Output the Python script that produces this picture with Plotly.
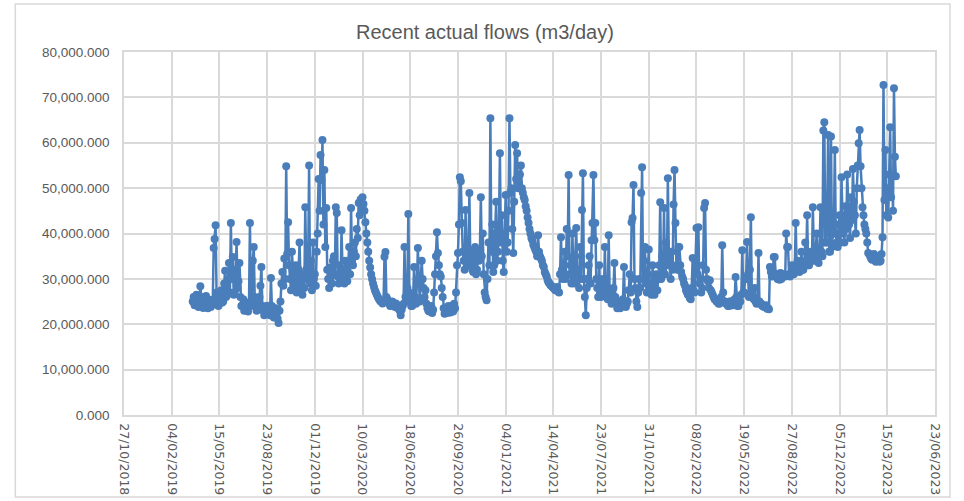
import pandas as pd
import plotly.graph_objects as go

# ---- data ----
title_text = "Recent actual flows (m3/day)"
start_date = "2019-03-20"      # first sample
step = "2D"                    # sampling step of the series below
axis_start = "2018-10-27"
axis_end = "2023-06-23"

# flow, thousands of m3/day, one value every 2 days (20 values = 40 days per row)
flows_k = [
    25.0, 26.0, 24.2, 25.5, 26.5, 24.5, 23.8, 25.0, 28.4, 26.0, 25.1, 23.6, 24.0, 25.2, 26.2, 24.4, 23.5, 24.8, 25.4, 23.8,
    24.3, 25.0, 36.8, 38.8, 41.8, 27.0, 26.0, 24.0, 24.5, 25.5, 27.5, 24.8, 25.0, 29.0, 31.8, 26.0, 26.4, 30.0, 33.5, 27.0,
    42.3, 30.0, 34.8, 26.5, 27.0, 32.0, 38.1, 28.0, 29.5, 33.5, 26.0, 24.0, 24.2, 25.5, 23.0, 24.0, 24.8, 23.2, 22.8, 24.5,
    42.3, 24.0, 25.5, 34.0, 37.0, 26.0, 24.0, 23.0, 23.2, 24.5, 26.0, 28.5, 32.6, 24.0, 23.0, 22.0, 22.5, 23.5, 24.1, 22.6,
    23.5, 22.0, 30.2, 24.0, 22.8, 21.5, 21.8, 23.5, 23.0, 21.2, 20.3, 23.0, 25.0, 29.0, 31.5, 28.5, 34.5, 30.0, 54.8, 35.5,
    42.5, 33.0, 30.0, 27.5, 36.0, 31.0, 28.5, 30.5, 33.0, 27.0, 27.5, 32.0, 38.0, 30.0, 29.0, 26.5, 31.0, 28.0, 45.8, 32.0,
    30.0, 33.0, 55.0, 29.0, 34.0, 27.5, 38.0, 30.0, 31.0, 28.5, 36.0, 40.0, 52.0, 45.0, 57.3, 51.8, 60.6, 42.0, 54.0, 37.0,
    45.6, 32.0, 30.0, 28.0, 32.5, 30.5, 29.0, 34.0, 35.0, 31.0, 45.8, 44.5, 30.5, 29.0, 33.0, 30.0, 40.7, 32.0, 31.0, 29.0,
    34.0, 30.0, 29.5, 33.5, 37.0, 31.0, 45.6, 34.0, 33.0, 36.0, 38.0, 35.0, 41.0, 39.0, 46.7, 44.0, 47.5, 45.5, 48.0, 46.5,
    45.0, 42.5, 40.0, 38.0, 36.0, 34.0, 32.5, 31.0, 30.0, 29.0, 28.2, 27.5, 27.0, 26.5, 26.0, 25.6, 25.3, 25.0, 25.0, 24.6,
    24.8, 34.9, 35.9, 26.0, 25.5, 24.8, 24.6, 24.0, 24.2, 25.0, 24.8, 24.0, 23.8, 24.6, 24.3, 23.5, 23.5, 23.0, 22.0, 23.2,
    24.0, 24.5, 37.0, 26.0, 25.0, 28.0, 44.3, 27.0, 25.2, 24.0, 24.0, 25.5, 32.6, 26.0, 24.5, 29.0, 36.8, 30.0, 25.0, 29.5,
    34.0, 30.0, 28.0, 26.0, 27.5, 24.5, 23.5, 23.0, 22.8, 23.5, 24.0, 22.5, 23.2, 27.0, 31.0, 35.0, 40.3, 35.7, 33.0, 31.0,
    30.5, 28.0, 26.0, 23.5, 22.3, 23.0, 23.5, 22.5, 24.0, 23.0, 22.6, 24.0, 23.8, 22.8, 24.5, 23.5, 27.0, 33.0, 35.7, 42.0,
    52.4, 51.5, 42.3, 36.0, 34.0, 32.0, 45.2, 35.0, 33.0, 36.5, 48.9, 34.0, 36.0, 32.0, 31.5, 35.0, 37.0, 31.0, 32.0, 34.5,
    34.0, 36.0, 48.0, 35.0, 40.0, 31.0, 27.0, 26.0, 25.3, 30.0, 38.0, 33.0, 65.4, 36.0, 42.0, 31.5, 33.0, 40.0, 47.0, 34.0,
    36.0, 42.0, 57.7, 38.0, 44.0, 34.0, 31.5, 40.0, 48.5, 36.0, 38.0, 45.0, 65.4, 49.0, 50.0, 41.0, 35.7, 47.0, 59.5, 52.0,
    57.7, 50.0, 51.0, 53.0, 55.0, 50.0, 49.0, 48.0, 47.4, 46.0, 45.0, 43.5, 42.3, 41.0, 40.0, 39.0, 38.5, 37.5, 37.0, 36.5,
    36.0, 35.0, 39.6, 36.0, 35.0, 34.5, 34.0, 33.0, 32.6, 31.5, 31.0, 30.5, 29.7, 29.2, 29.0, 28.6, 28.5, 28.2, 28.0, 27.8,
    27.5, 27.8, 28.2, 27.2, 27.0, 31.0, 39.2, 32.0, 30.0, 33.0, 36.0, 30.0, 41.0, 35.0, 52.9, 31.0, 33.0, 29.0, 40.0, 32.0,
    29.0, 35.0, 41.2, 30.0, 32.0, 28.0, 37.0, 30.0, 45.2, 53.3, 30.0, 26.0, 22.0, 28.0, 30.0, 33.0, 35.0, 29.0, 38.5, 42.3,
    52.9, 38.5, 42.3, 30.0, 28.0, 26.0, 33.0, 27.0, 26.0, 29.0, 30.0, 26.5, 37.0, 28.0, 27.0, 25.5, 39.6, 27.0, 25.5, 24.5,
    26.0, 28.0, 33.5, 26.0, 24.5, 23.5, 25.0, 24.0, 23.5, 24.5, 24.2, 25.5, 32.6, 25.0, 23.8, 24.5, 25.0, 27.5, 31.0, 27.0,
    42.5, 43.4, 50.7, 30.0, 28.0, 25.0, 23.8, 27.0, 30.0, 28.0, 48.9, 54.6, 30.0, 34.0, 37.0, 29.0, 27.0, 31.0, 36.5, 28.5,
    28.0, 26.5, 33.0, 28.0, 26.5, 29.5, 31.0, 27.5, 30.0, 33.0, 46.9, 30.0, 35.0, 32.0, 45.6, 31.0, 38.0, 33.0, 52.2, 36.0,
    33.0, 30.0, 36.0, 32.0, 46.4, 54.0, 42.3, 33.0, 32.0, 37.0, 37.0, 33.0, 31.5, 30.5, 30.0, 29.0, 28.5, 27.5, 27.0, 26.5,
    26.5, 25.8, 25.5, 28.0, 34.6, 27.5, 27.0, 34.0, 41.2, 31.0, 41.4, 29.0, 30.0, 27.0, 28.0, 33.0, 45.6, 46.7, 32.0, 30.0,
    29.5, 28.0, 29.7, 27.5, 27.0, 26.5, 26.0, 25.5, 25.5, 25.0, 25.0, 24.6, 24.5, 25.0, 26.0, 37.4, 27.0, 25.0, 25.0, 24.5,
    24.5, 24.0, 24.0, 25.0, 25.0, 24.2, 24.2, 25.0, 25.5, 30.4, 26.0, 24.0, 24.0, 25.0, 25.0, 26.5, 36.3, 27.0, 27.0, 30.0,
    30.0, 38.1, 31.0, 26.0, 32.0, 43.6, 27.0, 26.0, 25.5, 28.0, 25.0, 24.5, 25.0, 35.7, 25.0, 24.5, 24.5, 24.0, 24.0, 23.8,
    23.8, 24.2, 23.4, 23.6, 23.3, 32.6, 31.5, 30.5, 31.5, 34.8, 34.8, 31.0, 31.0, 30.0, 30.0, 29.8, 31.3, 30.0, 30.5, 31.0,
    31.0, 30.5, 40.0, 37.0, 37.0, 31.0, 30.5, 31.0, 33.0, 31.5, 31.0, 32.0, 42.3, 33.0, 34.0, 32.0, 31.5, 33.0, 36.0, 32.0,
    32.0, 33.5, 38.0, 34.0, 44.0, 33.0, 33.0, 35.0, 36.0, 34.0, 45.8, 35.0, 34.0, 36.5, 40.0, 35.0, 33.5, 36.0, 45.8, 36.0,
    35.0, 62.7, 64.5, 38.0, 38.0, 45.0, 61.7, 36.0, 36.0, 61.4, 37.0, 40.0, 40.0, 58.4, 40.0, 38.0, 37.0, 42.0, 44.0, 38.0,
    52.4, 44.0, 40.0, 38.0, 46.0, 41.0, 53.0, 45.0, 42.0, 39.0, 48.0, 43.0, 54.2, 47.0, 44.0, 40.0, 50.0, 55.0, 59.9, 62.8,
    54.8, 50.0, 45.8, 44.0, 42.0, 41.0, 40.0, 38.0, 35.7, 35.5, 35.0, 34.5, 34.2, 35.0, 35.5, 34.5, 33.8, 34.0, 35.0, 34.0,
    33.8, 34.0, 35.5, 39.2, 72.7, 47.4, 58.4, 44.0, 50.0, 43.5, 53.0, 63.4, 48.0, 52.6, 45.0, 72.0, 56.9, 52.6,
]

y_ticks = [0, 10000, 20000, 30000, 40000, 50000, 60000, 70000, 80000]

# ---- figure ----
dates = pd.date_range(start_date, periods=len(flows_k), freq=step)
flows = [v * 1000 for v in flows_k]

blue = "#4a7ebb"
grid = "#d9d9d9"
txt = "#595959"

fig = go.Figure(
    go.Scatter(
        x=dates, y=flows, mode="lines+markers",
        line=dict(color=blue, width=2.5),
        marker=dict(color=blue, size=8, symbol="circle"),
        showlegend=False,
    )
)

x_ticks = pd.date_range(axis_start, axis_end, freq="100D")

fig.update_layout(
    width=964, height=501,
    margin=dict(l=124, r=29, t=52, b=86),
    paper_bgcolor="white", plot_bgcolor="white",
    title=dict(text=title_text, x=0.503, xanchor="center", y=0.937, yanchor="middle",
               font=dict(family="Liberation Sans, Arial, sans-serif", size=20, color=txt)),
    font=dict(family="Liberation Sans, Arial, sans-serif", color=txt),
)
fig.update_xaxes(
    type="date", range=[pd.Timestamp(axis_start), pd.Timestamp(axis_end)],
    tickmode="array", tickvals=list(x_ticks),
    ticktext=[d.strftime("%d/%m/%Y") for d in x_ticks],
    tickangle=90, tickfont=dict(family="DejaVu Sans, sans-serif", size=12.5, color=txt),
    ticklabelstandoff=4, automargin=False,
    showgrid=True, gridcolor=grid, gridwidth=1.5,
    showline=True, linecolor=grid, linewidth=1.5, mirror=True,
    zeroline=False, ticks="", ticklen=0,
)
fig.update_yaxes(
    range=[0, 80000], tickmode="array", tickvals=y_ticks,
    tickformat=",.3f", tickfont=dict(size=13.5, color=txt),
    ticklabelstandoff=10, automargin=False,
    showgrid=True, gridcolor=grid, gridwidth=1.5,
    showline=True, linecolor=grid, linewidth=1.5, mirror=True,
    zeroline=False, ticks="", ticklen=0,
)
# outer chart border
fig.add_shape(type="rect", xref="paper", yref="paper",
              x0=-0.134, x1=1.0185, y0=-0.226, y1=1.132,
              line=dict(color=grid, width=1.5), fillcolor="rgba(0,0,0,0)", layer="below")

fig.write_html("out.html", config={"displayModeBar": False},
               post_script="document.body.style.margin='0px';")
